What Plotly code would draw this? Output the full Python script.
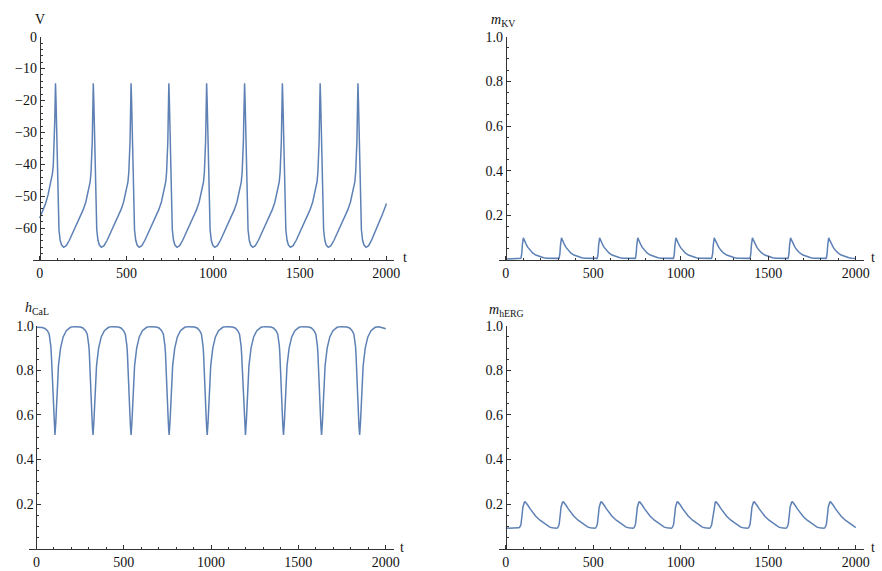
import plotly.graph_objects as go

# ---------------------------------------------------------------
# Simulated pacemaker cell: membrane potential and gating variables
# Samples are listed cycle by cycle (one row per action potential).
# ---------------------------------------------------------------

t = [
    0, 15, 33, 48, 63, 73, 78, 82, 85, 87, 89,
    91, 94, 97, 100, 103, 106, 111, 118, 126, 138, 153, 171, 195, 216, 233, 251, 266, 281, 291, 296, 300, 303, 305, 307,
    309, 312, 315, 318, 321, 324, 329, 336, 344, 356, 371, 389, 413, 434, 451, 469, 484, 499, 509, 514, 518, 521, 523, 525,
    527, 530, 533, 536, 539, 542, 547, 554, 562, 574, 589, 607, 631, 652, 669, 687, 702, 717, 727, 732, 736, 739, 741, 743,
    745, 748, 751, 754, 757, 760, 765, 772, 780, 792, 807, 825, 849, 870, 887, 905, 920, 935, 945, 950, 954, 957, 959, 961,
    963, 966, 969, 972, 975, 978, 983, 990, 998, 1010, 1025, 1043, 1067, 1088, 1105, 1123, 1138, 1153, 1163, 1168, 1172, 1175, 1177, 1179,
    1182, 1185, 1188, 1191, 1194, 1197, 1202, 1209, 1217, 1229, 1244, 1262, 1286, 1307, 1324, 1342, 1357, 1372, 1382, 1387, 1391, 1394, 1396, 1398,
    1400, 1403, 1406, 1409, 1412, 1415, 1420, 1427, 1435, 1447, 1462, 1480, 1504, 1525, 1542, 1560, 1575, 1590, 1600, 1605, 1609, 1612, 1614, 1616,
    1618, 1621, 1624, 1627, 1630, 1633, 1638, 1645, 1653, 1665, 1680, 1698, 1722, 1743, 1760, 1778, 1793, 1808, 1818, 1823, 1827, 1830, 1832, 1834,
    1836, 1839, 1842, 1845, 1848, 1851, 1856, 1863, 1871, 1883, 1898, 1916, 1940, 1961, 1978, 1996, 2000,
]

V = [
    -56.8, -55.0, -52.4, -49.6, -46.0, -43.0, -40.5, -36.0, -31.5, -26.0, -20.0,
    -14.6, -20, -28, -39, -49, -55.5, -60.5, -63.8, -65.3, -66.0, -65.5, -63.8, -61.0, -58.5, -56.6, -54.2, -51.8, -48.5, -45.5, -42.5, -38, -33, -27, -20,
    -14.6, -20, -28, -39, -49, -55.5, -60.5, -63.8, -65.3, -66.0, -65.5, -63.8, -61.0, -58.5, -56.6, -54.2, -51.8, -48.5, -45.5, -42.5, -38, -33, -27, -20,
    -14.6, -20, -28, -39, -49, -55.5, -60.5, -63.8, -65.3, -66.0, -65.5, -63.8, -61.0, -58.5, -56.6, -54.2, -51.8, -48.5, -45.5, -42.5, -38, -33, -27, -20,
    -14.6, -20, -28, -39, -49, -55.5, -60.5, -63.8, -65.3, -66.0, -65.5, -63.8, -61.0, -58.5, -56.6, -54.2, -51.8, -48.5, -45.5, -42.5, -38, -33, -27, -20,
    -14.6, -20, -28, -39, -49, -55.5, -60.5, -63.8, -65.3, -66.0, -65.5, -63.8, -61.0, -58.5, -56.6, -54.2, -51.8, -48.5, -45.5, -42.5, -38, -33, -27, -20,
    -14.6, -20, -28, -39, -49, -55.5, -60.5, -63.8, -65.3, -66.0, -65.5, -63.8, -61.0, -58.5, -56.6, -54.2, -51.8, -48.5, -45.5, -42.5, -38, -33, -27, -20,
    -14.6, -20, -28, -39, -49, -55.5, -60.5, -63.8, -65.3, -66.0, -65.5, -63.8, -61.0, -58.5, -56.6, -54.2, -51.8, -48.5, -45.5, -42.5, -38, -33, -27, -20,
    -14.6, -20, -28, -39, -49, -55.5, -60.5, -63.8, -65.3, -66.0, -65.5, -63.8, -61.0, -58.5, -56.6, -54.2, -51.8, -48.5, -45.5, -42.5, -38, -33, -27, -20,
    -14.6, -20, -28, -39, -49, -55.5, -60.5, -63.8, -65.3, -66.0, -65.5, -63.6, -60.6, -57.9, -55.6, -53.0, -52.3,
]

m_KV = [
    0.005, 0.005, 0.005, 0.005, 0.005, 0.005, 0.0055, 0.006, 0.008, 0.011, 0.018,
    0.03, 0.065, 0.09, 0.1, 0.094, 0.088, 0.079, 0.068, 0.057, 0.044, 0.032, 0.023, 0.015, 0.011, 0.009, 0.008, 0.007, 0.0065, 0.006, 0.006, 0.0065, 0.008, 0.011, 0.018,
    0.03, 0.065, 0.09, 0.1, 0.094, 0.088, 0.079, 0.068, 0.057, 0.044, 0.032, 0.023, 0.015, 0.011, 0.009, 0.008, 0.007, 0.0065, 0.006, 0.006, 0.0065, 0.008, 0.011, 0.018,
    0.03, 0.065, 0.09, 0.1, 0.094, 0.088, 0.079, 0.068, 0.057, 0.044, 0.032, 0.023, 0.015, 0.011, 0.009, 0.008, 0.007, 0.0065, 0.006, 0.006, 0.0065, 0.008, 0.011, 0.018,
    0.03, 0.065, 0.09, 0.1, 0.094, 0.088, 0.079, 0.068, 0.057, 0.044, 0.032, 0.023, 0.015, 0.011, 0.009, 0.008, 0.007, 0.0065, 0.006, 0.006, 0.0065, 0.008, 0.011, 0.018,
    0.03, 0.065, 0.09, 0.1, 0.094, 0.088, 0.079, 0.068, 0.057, 0.044, 0.032, 0.023, 0.015, 0.011, 0.009, 0.008, 0.007, 0.0065, 0.006, 0.006, 0.0065, 0.008, 0.011, 0.018,
    0.03, 0.065, 0.09, 0.1, 0.094, 0.088, 0.079, 0.068, 0.057, 0.044, 0.032, 0.023, 0.015, 0.011, 0.009, 0.008, 0.007, 0.0065, 0.006, 0.006, 0.0065, 0.008, 0.011, 0.018,
    0.03, 0.065, 0.09, 0.1, 0.094, 0.088, 0.079, 0.068, 0.057, 0.044, 0.032, 0.023, 0.015, 0.011, 0.009, 0.008, 0.007, 0.0065, 0.006, 0.006, 0.0065, 0.008, 0.011, 0.018,
    0.03, 0.065, 0.09, 0.1, 0.094, 0.088, 0.079, 0.068, 0.057, 0.044, 0.032, 0.023, 0.015, 0.011, 0.009, 0.008, 0.007, 0.0065, 0.006, 0.006, 0.0065, 0.008, 0.011, 0.018,
    0.03, 0.065, 0.09, 0.1, 0.094, 0.088, 0.079, 0.068, 0.057, 0.044, 0.032, 0.023, 0.015, 0.011, 0.009, 0.008, 0.0075,
]

h_CaL = [
    0.993, 0.993, 0.992, 0.988, 0.978, 0.962, 0.94, 0.91, 0.875, 0.845, 0.805,
    0.765, 0.71, 0.65, 0.59, 0.54, 0.51, 0.57, 0.72, 0.82, 0.9, 0.95, 0.978, 0.993, 0.996, 0.996, 0.994, 0.99, 0.978, 0.962, 0.94, 0.91, 0.875, 0.845, 0.805,
    0.765, 0.71, 0.65, 0.59, 0.54, 0.51, 0.57, 0.72, 0.82, 0.9, 0.95, 0.978, 0.993, 0.996, 0.996, 0.994, 0.99, 0.978, 0.962, 0.94, 0.91, 0.875, 0.845, 0.805,
    0.765, 0.71, 0.65, 0.59, 0.54, 0.51, 0.57, 0.72, 0.82, 0.9, 0.95, 0.978, 0.993, 0.996, 0.996, 0.994, 0.99, 0.978, 0.962, 0.94, 0.91, 0.875, 0.845, 0.805,
    0.765, 0.71, 0.65, 0.59, 0.54, 0.51, 0.57, 0.72, 0.82, 0.9, 0.95, 0.978, 0.993, 0.996, 0.996, 0.994, 0.99, 0.978, 0.962, 0.94, 0.91, 0.875, 0.845, 0.805,
    0.765, 0.71, 0.65, 0.59, 0.54, 0.51, 0.57, 0.72, 0.82, 0.9, 0.95, 0.978, 0.993, 0.996, 0.996, 0.994, 0.99, 0.978, 0.962, 0.94, 0.91, 0.875, 0.845, 0.805,
    0.765, 0.71, 0.65, 0.59, 0.54, 0.51, 0.57, 0.72, 0.82, 0.9, 0.95, 0.978, 0.993, 0.996, 0.996, 0.994, 0.99, 0.978, 0.962, 0.94, 0.91, 0.875, 0.845, 0.805,
    0.765, 0.71, 0.65, 0.59, 0.54, 0.51, 0.57, 0.72, 0.82, 0.9, 0.95, 0.978, 0.993, 0.996, 0.996, 0.994, 0.99, 0.978, 0.962, 0.94, 0.91, 0.875, 0.845, 0.805,
    0.765, 0.71, 0.65, 0.59, 0.54, 0.51, 0.57, 0.72, 0.82, 0.9, 0.95, 0.978, 0.993, 0.996, 0.996, 0.994, 0.99, 0.978, 0.962, 0.94, 0.91, 0.875, 0.845, 0.805,
    0.765, 0.71, 0.65, 0.59, 0.54, 0.51, 0.57, 0.72, 0.82, 0.9, 0.95, 0.978, 0.993, 0.995, 0.993, 0.988, 0.986,
]

m_hERG = [
    0.092, 0.092, 0.092, 0.092, 0.093, 0.094, 0.096, 0.099, 0.105, 0.112, 0.122,
    0.135, 0.16, 0.185, 0.2, 0.206, 0.209, 0.21, 0.204, 0.195, 0.18, 0.163, 0.146, 0.128, 0.115, 0.104, 0.097, 0.094, 0.092, 0.092, 0.094, 0.098, 0.105, 0.112, 0.122,
    0.135, 0.16, 0.185, 0.2, 0.206, 0.209, 0.21, 0.204, 0.195, 0.18, 0.163, 0.146, 0.128, 0.115, 0.104, 0.097, 0.094, 0.092, 0.092, 0.094, 0.098, 0.105, 0.112, 0.122,
    0.135, 0.16, 0.185, 0.2, 0.206, 0.209, 0.21, 0.204, 0.195, 0.18, 0.163, 0.146, 0.128, 0.115, 0.104, 0.097, 0.094, 0.092, 0.092, 0.094, 0.098, 0.105, 0.112, 0.122,
    0.135, 0.16, 0.185, 0.2, 0.206, 0.209, 0.21, 0.204, 0.195, 0.18, 0.163, 0.146, 0.128, 0.115, 0.104, 0.097, 0.094, 0.092, 0.092, 0.094, 0.098, 0.105, 0.112, 0.122,
    0.135, 0.16, 0.185, 0.2, 0.206, 0.209, 0.21, 0.204, 0.195, 0.18, 0.163, 0.146, 0.128, 0.115, 0.104, 0.097, 0.094, 0.092, 0.092, 0.094, 0.098, 0.105, 0.112, 0.122,
    0.135, 0.16, 0.185, 0.2, 0.206, 0.209, 0.21, 0.204, 0.195, 0.18, 0.163, 0.146, 0.128, 0.115, 0.104, 0.097, 0.094, 0.092, 0.092, 0.094, 0.098, 0.105, 0.112, 0.122,
    0.135, 0.16, 0.185, 0.2, 0.206, 0.209, 0.21, 0.204, 0.195, 0.18, 0.163, 0.146, 0.128, 0.115, 0.104, 0.097, 0.094, 0.092, 0.092, 0.094, 0.098, 0.105, 0.112, 0.122,
    0.135, 0.16, 0.185, 0.2, 0.206, 0.209, 0.21, 0.204, 0.195, 0.18, 0.163, 0.146, 0.128, 0.115, 0.104, 0.097, 0.094, 0.092, 0.092, 0.094, 0.098, 0.105, 0.112, 0.122,
    0.135, 0.16, 0.185, 0.2, 0.206, 0.209, 0.21, 0.204, 0.195, 0.18, 0.163, 0.146, 0.128, 0.115, 0.104, 0.097, 0.095,
]

t_ticks = [0, 500, 1000, 1500, 2000]
v_ticks = [-60, -50, -40, -30, -20, -10, 0]
v_tick_text = ["\u221260", "\u221250", "\u221240", "\u221230", "\u221220", "\u221210", "0"]
gate_ticks = [0.2, 0.4, 0.6, 0.8, 1.0]
gate_tick_text = ["0.2", "0.4", "0.6", "0.8", "1.0"]

# ---------------------------------------------------------------
# Styling
# ---------------------------------------------------------------
W, H = 882, 571
LINE = "#5E81B5"
AXIS = "#333333"
TEXT = "#111111"
FONT = "Liberation Serif"
T_MIN, T_MAX = -40, 2045

# panel geometry in pixels: (x of t=0, x of t=2000, y top, y bottom)
panels = {
    "tl": (40.0, 389.0, 30.0, 256.2),
    "tr": (509.3, 861.7, 30.0, 256.3),
    "bl": (36.7, 388.3, 322.7, 548.5),
    "br": (509.3, 861.7, 322.7, 548.5),
}


def x_domain(p):
    x0, x2000 = p[0], p[1]
    s = (x2000 - x0) / 2000.0
    return [(x0 + T_MIN * s) / W, (x0 + T_MAX * s) / W]


def y_domain(p):
    return [1 - p[3] / H, 1 - p[2] / H]


def xaxis(p, yname):
    return dict(
        domain=x_domain(p), range=[T_MIN, T_MAX], anchor=yname,
        showline=True, linecolor=AXIS, linewidth=1,
        ticks="inside", ticklen=4, tickcolor=AXIS, tickwidth=1,
        tickvals=t_ticks,
        minor=dict(ticks="inside", ticklen=2, tickcolor=AXIS, dtick=100, tick0=0),
        showgrid=False, zeroline=False,
        tickfont=dict(family=FONT, size=14, color=TEXT),
        fixedrange=True,
    )


def yaxis(p, rng, tickvals, ticktext, minor_dtick):
    return dict(
        domain=y_domain(p), range=rng, anchor="free", position=p[0] / W,
        showline=True, linecolor=AXIS, linewidth=1,
        ticks="inside", ticklen=4, tickcolor=AXIS, tickwidth=1,
        tickvals=tickvals, ticktext=ticktext,
        minor=dict(ticks="inside", ticklen=2, tickcolor=AXIS, dtick=minor_dtick, tick0=0),
        showgrid=False, zeroline=False,
        tickfont=dict(family=FONT, size=14, color=TEXT),
        fixedrange=True,
    )


fig = go.Figure()
series = [
    (V, "x", "y"),
    (m_KV, "x2", "y2"),
    (h_CaL, "x3", "y3"),
    (m_hERG, "x4", "y4"),
]
for vals, xa, ya in series:
    fig.add_trace(go.Scatter(
        x=t, y=vals, xaxis=xa, yaxis=ya, mode="lines",
        line=dict(color=LINE, width=1.5), hoverinfo="skip", showlegend=False,
    ))


def label(text, px, py, size=14, xanchor="center"):
    return dict(
        text=text, x=px / W, y=1 - py / H, xref="paper", yref="paper",
        xanchor=xanchor, yanchor="middle", showarrow=False,
        font=dict(family=FONT, size=size, color=TEXT),
    )


fig.update_layout(
    width=W, height=H, autosize=False,
    margin=dict(l=0, r=0, t=0, b=0),
    paper_bgcolor="white", plot_bgcolor="white",
    font=dict(family=FONT, size=14, color=TEXT),
    xaxis=xaxis(panels["tl"], "y"),
    yaxis=yaxis(panels["tl"], [-70, 0], v_ticks, v_tick_text, 2),
    xaxis2=xaxis(panels["tr"], "y2"),
    yaxis2=yaxis(panels["tr"], [0, 1], gate_ticks, gate_tick_text, 0.05),
    xaxis3=xaxis(panels["bl"], "y3"),
    yaxis3=yaxis(panels["bl"], [0, 1], gate_ticks, gate_tick_text, 0.05),
    xaxis4=xaxis(panels["br"], "y4"),
    yaxis4=yaxis(panels["br"], [0, 1], gate_ticks, gate_tick_text, 0.05),
    annotations=[
        label("V", 40, 13),
        label("<i>m</i><sub>KV</sub>", 506, 14),
        label("<i>h</i><sub>CaL</sub>", 37, 305),
        label("<i>m</i><sub>hERG</sub>", 510, 307),
        label("t", 408, 254),
        label("t", 878.5, 254),
        label("t", 405, 547),
        label("t", 878.5, 547),
    ],
)

fig.write_html("out.html", config={"displayModeBar": False})
